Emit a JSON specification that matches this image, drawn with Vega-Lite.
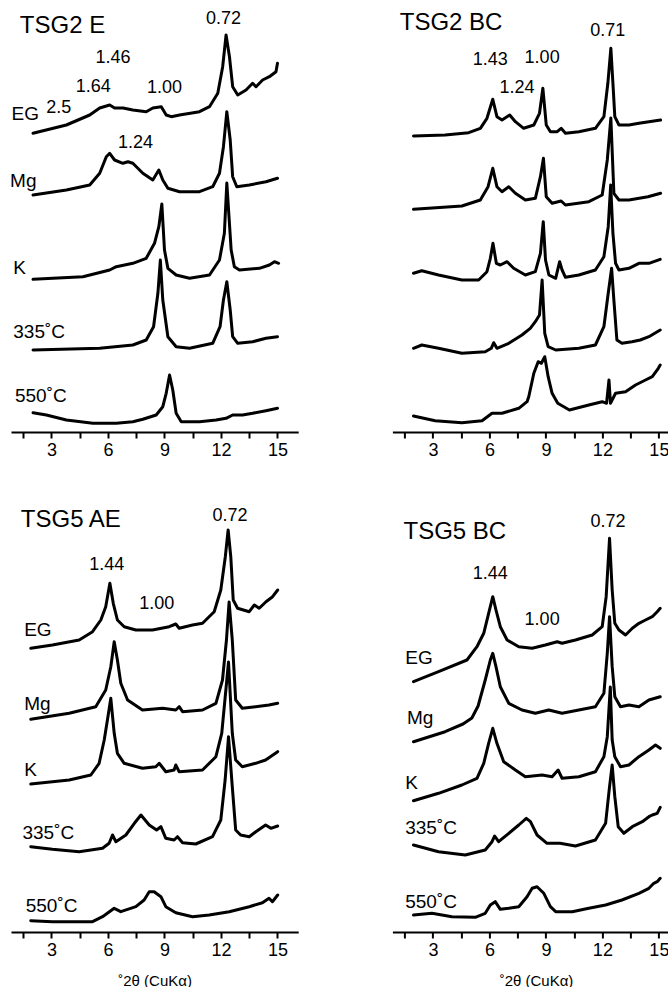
{
"$schema": "https://vega.github.io/schema/vega-lite/v6.json",
"padding": {"left": 10, "top": 0, "right": 0, "bottom": 0},
"background": "white",
"config": {
  "view": {"stroke": null},
  "axisX": {"grid": false, "domainColor": "black", "domainWidth": 2, "tickColor": "black", "tickWidth": 2, "tickSize": 6, "labelFont": "Liberation Sans", "labelFontSize": 18, "labelColor": "black", "labelPadding": 3, "labelFlush": false, "titleFont": "Liberation Sans", "titleFontSize": 15, "titleFontWeight": "normal", "titleColor": "black", "titlePadding": 14},
  "line": {"color": "black", "strokeWidth": 3, "strokeJoin": "round", "strokeCap": "round"},
  "text": {"font": "Liberation Sans", "color": "black", "baseline": "middle"}
},
"bounds": "flush",
"columns": 2,
"spacing": {"row": 48, "column": 93.4},
"concat": [
{
 "width": 287.2, "height": 432,
 "resolve": {"axis": {"x": "independent"}},
 "layer": [
  {"data": {"values": [
    {"t":"EG","x":2.02,"y":298.7},{"t":"EG","x":3.79,"y":307},{"t":"EG","x":5.03,"y":317},{"t":"EG","x":5.56,"y":324},{"t":"EG","x":6.09,"y":327},{"t":"EG","x":6.35,"y":324},{"t":"EG","x":6.8,"y":324},{"t":"EG","x":7.32,"y":322},{"t":"EG","x":8.03,"y":320.3},{"t":"EG","x":8.38,"y":324},{"t":"EG","x":8.83,"y":325.3},{"t":"EG","x":9.09,"y":317},{"t":"EG","x":9.36,"y":315.3},{"t":"EG","x":9.8,"y":317},{"t":"EG","x":10.86,"y":320.3},{"t":"EG","x":11.39,"y":325.3},{"t":"EG","x":11.83,"y":338.7},{"t":"EG","x":12.09,"y":365.3},{"t":"EG","x":12.27,"y":397},{"t":"EG","x":12.45,"y":375.3},{"t":"EG","x":12.62,"y":345.3},{"t":"EG","x":12.89,"y":337},{"t":"EG","x":13.33,"y":342},{"t":"EG","x":13.68,"y":348.7},{"t":"EG","x":13.86,"y":345.3},{"t":"EG","x":14.21,"y":352},{"t":"EG","x":14.57,"y":355.3},{"t":"EG","x":14.92,"y":360.3},{"t":"EG","x":15.0,"y":368.7},
    {"t":"Mg","x":2.02,"y":237},{"t":"Mg","x":3.79,"y":242},{"t":"Mg","x":5.03,"y":247},{"t":"Mg","x":5.56,"y":258.7},{"t":"Mg","x":5.91,"y":275.3},{"t":"Mg","x":6.09,"y":278.7},{"t":"Mg","x":6.35,"y":272},{"t":"Mg","x":6.79,"y":268.7},{"t":"Mg","x":7.06,"y":270.3},{"t":"Mg","x":7.32,"y":268.7},{"t":"Mg","x":7.85,"y":258.7},{"t":"Mg","x":8.38,"y":252},{"t":"Mg","x":8.7,"y":262},{"t":"Mg","x":8.91,"y":252},{"t":"Mg","x":9.18,"y":243.7},{"t":"Mg","x":9.8,"y":240.3},{"t":"Mg","x":10.86,"y":240.3},{"t":"Mg","x":11.56,"y":245.3},{"t":"Mg","x":11.92,"y":258.7},{"t":"Mg","x":12.13,"y":285.3},{"t":"Mg","x":12.31,"y":320.3},{"t":"Mg","x":12.49,"y":292},{"t":"Mg","x":12.62,"y":255.3},{"t":"Mg","x":12.84,"y":245.3},{"t":"Mg","x":13.5,"y":247},{"t":"Mg","x":14.39,"y":250.3},{"t":"Mg","x":15.0,"y":253.7},
    {"t":"K","x":2.02,"y":152.7},{"t":"K","x":4.67,"y":155.3},{"t":"K","x":6.09,"y":162},{"t":"K","x":6.44,"y":165.3},{"t":"K","x":7.32,"y":168.7},{"t":"K","x":8.03,"y":173.7},{"t":"K","x":8.47,"y":188.7},{"t":"K","x":8.7,"y":205.3},{"t":"K","x":8.86,"y":228},{"t":"K","x":9.0,"y":182},{"t":"K","x":9.18,"y":163.7},{"t":"K","x":9.62,"y":157},{"t":"K","x":10.33,"y":153.7},{"t":"K","x":11.39,"y":157},{"t":"K","x":11.92,"y":172},{"t":"K","x":12.18,"y":198.7},{"t":"K","x":12.31,"y":249},{"t":"K","x":12.54,"y":182},{"t":"K","x":12.71,"y":165.3},{"t":"K","x":12.98,"y":162},{"t":"K","x":14.04,"y":163.7},{"t":"K","x":14.57,"y":167},{"t":"K","x":14.84,"y":170.3},{"t":"K","x":15.06,"y":168.7},
    {"t":"335","x":2.02,"y":82},{"t":"335","x":5.56,"y":83.7},{"t":"335","x":7.32,"y":87},{"t":"335","x":8.03,"y":92},{"t":"335","x":8.42,"y":105.3},{"t":"335","x":8.65,"y":138.7},{"t":"335","x":8.78,"y":172},{"t":"335","x":8.91,"y":132},{"t":"335","x":9.18,"y":95.3},{"t":"335","x":9.62,"y":85.3},{"t":"335","x":10.33,"y":83.7},{"t":"335","x":11.56,"y":88.7},{"t":"335","x":11.95,"y":105.3},{"t":"335","x":12.13,"y":132},{"t":"335","x":12.31,"y":150.3},{"t":"335","x":12.49,"y":122},{"t":"335","x":12.62,"y":95.3},{"t":"335","x":12.89,"y":88.7},{"t":"335","x":13.68,"y":90.3},{"t":"335","x":14.39,"y":93.7},{"t":"335","x":15.0,"y":95.3},
    {"t":"550","x":2.02,"y":19.3},{"t":"550","x":2.73,"y":17},{"t":"550","x":3.79,"y":12},{"t":"550","x":5.2,"y":8.7},{"t":"550","x":6.44,"y":8.7},{"t":"550","x":7.32,"y":10.3},{"t":"550","x":7.85,"y":12.7},{"t":"550","x":8.56,"y":17},{"t":"550","x":8.91,"y":25.3},{"t":"550","x":9.09,"y":38.7},{"t":"550","x":9.27,"y":57},{"t":"550","x":9.44,"y":42},{"t":"550","x":9.62,"y":18.7},{"t":"550","x":9.89,"y":10.3},{"t":"550","x":10.86,"y":10.3},{"t":"550","x":11.74,"y":12},{"t":"550","x":12.27,"y":13.7},{"t":"550","x":12.62,"y":17},{"t":"550","x":13.15,"y":17},{"t":"550","x":13.68,"y":18.7},{"t":"550","x":14.39,"y":21.3},{"t":"550","x":15.0,"y":23.7}
   ]},
   "mark": "line",
   "encoding": {
    "x": {"field": "x", "type": "quantitative", "scale": {"domain": [0.85, 16.1], "nice": false, "zero": false}, "axis": {"values": [3,6,9,12,15], "title": null, "orient": "bottom"}},
    "y": {"field": "y", "type": "quantitative", "scale": {"domain": [0, 432], "nice": false, "zero": false}, "axis": null},
    "detail": {"field": "t"}
   }},
  {"data": {"values": [{"x":1.32,"y":406,"text":"TSG2 E"}]}, "mark": {"type": "text", "align": "left", "fontSize": 24}, "encoding": {"x": {"field":"x","type":"quantitative","axis": {"values": [1.5,4.5,7.5,10.5,13.5], "labels": false, "domain": false, "title": null, "orient": "bottom"}}, "y": {"field":"y","type":"quantitative"}, "text": {"field":"text"}}},
  {"data": {"values": [{"x":0.88,"y":318,"text":"EG"},{"x":0.8,"y":251,"text":"Mg"},{"x":0.97,"y":164,"text":"K"},{"x":0.97,"y":100,"text":"335˚C"},{"x":1.06,"y":36,"text":"550˚C"}]}, "mark": {"type": "text", "align": "left", "fontSize": 19}, "encoding": {"x": {"field":"x","type":"quantitative","axis": null}, "y": {"field":"y","type":"quantitative"}, "text": {"field":"text"}}},
  {"data": {"values": [{"x":12.13,"y":413,"text":"0.72"},{"x":6.27,"y":374.5,"text":"1.46"},{"x":5.22,"y":345,"text":"1.64"},{"x":9.0,"y":343.7,"text":"1.00"},{"x":3.39,"y":324,"text":"2.5"},{"x":7.46,"y":289,"text":"1.24"}]}, "mark": {"type": "text", "align": "center", "fontSize": 18}, "encoding": {"x": {"field":"x","type":"quantitative","axis": null}, "y": {"field":"y","type":"quantitative"}, "text": {"field":"text"}}}
 ]
},
{
 "width": 287.2, "height": 432,
 "resolve": {"axis": {"x": "independent"}},
 "layer": [
  {"data": {"values": [
    {"t":"EG","x":1.97,"y":296},{"t":"EG","x":3.65,"y":297},{"t":"EG","x":4.9,"y":299.3},{"t":"EG","x":5.52,"y":303.7},{"t":"EG","x":5.87,"y":313.7},{"t":"EG","x":6.18,"y":332.7},{"t":"EG","x":6.4,"y":315.3},{"t":"EG","x":6.67,"y":312},{"t":"EG","x":7.08,"y":317},{"t":"EG","x":7.38,"y":310.3},{"t":"EG","x":7.82,"y":303.7},{"t":"EG","x":8.36,"y":307},{"t":"EG","x":8.66,"y":318.7},{"t":"EG","x":8.84,"y":343.7},{"t":"EG","x":9.02,"y":307},{"t":"EG","x":9.24,"y":300.3},{"t":"EG","x":9.6,"y":300.3},{"t":"EG","x":9.81,"y":303.7},{"t":"EG","x":10.04,"y":298.7},{"t":"EG","x":10.75,"y":300.3},{"t":"EG","x":11.63,"y":303.7},{"t":"EG","x":12.08,"y":315.3},{"t":"EG","x":12.29,"y":348.7},{"t":"EG","x":12.45,"y":383.7},{"t":"EG","x":12.56,"y":348.7},{"t":"EG","x":12.66,"y":315.3},{"t":"EG","x":12.88,"y":307},{"t":"EG","x":13.41,"y":307},{"t":"EG","x":13.94,"y":308.7},{"t":"EG","x":14.47,"y":310.3},{"t":"EG","x":15.09,"y":312},
    {"t":"Mg","x":1.97,"y":222.7},{"t":"Mg","x":4.54,"y":226},{"t":"Mg","x":5.52,"y":232},{"t":"Mg","x":5.93,"y":245.3},{"t":"Mg","x":6.18,"y":263.7},{"t":"Mg","x":6.4,"y":245.3},{"t":"Mg","x":6.67,"y":240.3},{"t":"Mg","x":7.03,"y":245.3},{"t":"Mg","x":7.38,"y":238.7},{"t":"Mg","x":7.91,"y":232},{"t":"Mg","x":8.44,"y":233.7},{"t":"Mg","x":8.71,"y":255.3},{"t":"Mg","x":8.87,"y":273.7},{"t":"Mg","x":9.02,"y":235.3},{"t":"Mg","x":9.33,"y":228.7},{"t":"Mg","x":9.81,"y":231},{"t":"Mg","x":10.04,"y":227},{"t":"Mg","x":11.28,"y":230.3},{"t":"Mg","x":11.99,"y":237},{"t":"Mg","x":12.26,"y":272},{"t":"Mg","x":12.45,"y":314},{"t":"Mg","x":12.61,"y":238.7},{"t":"Mg","x":12.88,"y":232},{"t":"Mg","x":13.41,"y":232},{"t":"Mg","x":14.42,"y":235.3},{"t":"Mg","x":15.09,"y":238.7},
    {"t":"K","x":1.97,"y":158.7},{"t":"K","x":2.41,"y":161.3},{"t":"K","x":3.3,"y":157},{"t":"K","x":4.54,"y":152},{"t":"K","x":5.43,"y":152},{"t":"K","x":5.87,"y":160.3},{"t":"K","x":6.05,"y":173.7},{"t":"K","x":6.19,"y":188.7},{"t":"K","x":6.37,"y":168.7},{"t":"K","x":6.58,"y":167},{"t":"K","x":6.94,"y":170.3},{"t":"K","x":7.29,"y":163.7},{"t":"K","x":7.91,"y":157},{"t":"K","x":8.44,"y":160.3},{"t":"K","x":8.71,"y":178.7},{"t":"K","x":8.86,"y":210.3},{"t":"K","x":8.98,"y":172},{"t":"K","x":9.16,"y":157},{"t":"K","x":9.52,"y":153.7},{"t":"K","x":9.73,"y":170.3},{"t":"K","x":9.86,"y":162},{"t":"K","x":10.04,"y":154.7},{"t":"K","x":10.75,"y":157},{"t":"K","x":11.63,"y":162},{"t":"K","x":12.08,"y":175.3},{"t":"K","x":12.31,"y":205.3},{"t":"K","x":12.44,"y":247},{"t":"K","x":12.56,"y":198.7},{"t":"K","x":12.7,"y":168.7},{"t":"K","x":12.88,"y":162},{"t":"K","x":13.41,"y":163.7},{"t":"K","x":13.94,"y":168.7},{"t":"K","x":14.47,"y":168.7},{"t":"K","x":15.07,"y":172.7},
    {"t":"335","x":1.97,"y":83.7},{"t":"335","x":2.41,"y":87},{"t":"335","x":3.3,"y":83.7},{"t":"335","x":4.54,"y":78.7},{"t":"335","x":5.78,"y":80.3},{"t":"335","x":6.1,"y":83.7},{"t":"335","x":6.23,"y":89.3},{"t":"335","x":6.4,"y":83.7},{"t":"335","x":7.03,"y":88.7},{"t":"335","x":7.73,"y":97},{"t":"335","x":8.17,"y":103.7},{"t":"335","x":8.44,"y":110.3},{"t":"335","x":8.66,"y":117},{"t":"335","x":8.8,"y":152},{"t":"335","x":8.94,"y":98.7},{"t":"335","x":9.12,"y":85.3},{"t":"335","x":9.52,"y":82},{"t":"335","x":10.75,"y":83.7},{"t":"335","x":11.63,"y":87},{"t":"335","x":12.08,"y":105.3},{"t":"335","x":12.31,"y":138.7},{"t":"335","x":12.49,"y":163.7},{"t":"335","x":12.61,"y":132},{"t":"335","x":12.77,"y":92},{"t":"335","x":13.04,"y":88.7},{"t":"335","x":13.57,"y":90.3},{"t":"335","x":14.01,"y":92},{"t":"335","x":14.47,"y":95.3},{"t":"335","x":15.07,"y":102},
    {"t":"550","x":1.97,"y":16},{"t":"550","x":3.12,"y":11.3},{"t":"550","x":4.54,"y":9.3},{"t":"550","x":5.61,"y":11.3},{"t":"550","x":6.14,"y":18.7},{"t":"550","x":6.67,"y":18.7},{"t":"550","x":7.56,"y":23.7},{"t":"550","x":8.0,"y":30.3},{"t":"550","x":8.09,"y":35.3},{"t":"550","x":8.36,"y":58.7},{"t":"550","x":8.59,"y":70.3},{"t":"550","x":8.76,"y":68.7},{"t":"550","x":8.94,"y":75.3},{"t":"550","x":9.12,"y":55.3},{"t":"550","x":9.33,"y":38.7},{"t":"550","x":9.63,"y":28.7},{"t":"550","x":10.25,"y":22},{"t":"550","x":11.28,"y":27},{"t":"550","x":11.99,"y":30.3},{"t":"550","x":12.22,"y":28.7},{"t":"550","x":12.35,"y":52},{"t":"550","x":12.43,"y":28.7},{"t":"550","x":12.7,"y":38.7},{"t":"550","x":13.23,"y":40.3},{"t":"550","x":13.76,"y":47},{"t":"550","x":14.29,"y":52},{"t":"550","x":14.65,"y":55.3},{"t":"550","x":14.97,"y":63.7},{"t":"550","x":15.07,"y":67}
   ]},
   "mark": "line",
   "encoding": {
    "x": {"field": "x", "type": "quantitative", "scale": {"domain": [0.85, 16.1], "nice": false, "zero": false}, "axis": {"values": [3,6,9,12,15], "title": null, "orient": "bottom"}},
    "y": {"field": "y", "type": "quantitative", "scale": {"domain": [0, 432], "nice": false, "zero": false}, "axis": null},
    "detail": {"field": "t"}
   }},
  {"data": {"values": [{"x":1.24,"y":409.5,"text":"TSG2 BC"}]}, "mark": {"type": "text", "align": "left", "fontSize": 24}, "encoding": {"x": {"field":"x","type":"quantitative","axis": {"values": [1.5,4.5,7.5,10.5,13.5], "labels": false, "domain": false, "title": null, "orient": "bottom"}}, "y": {"field":"y","type":"quantitative"}, "text": {"field":"text"}}},
  {"data": {"values": [{"x":12.29,"y":401,"text":"0.71"},{"x":6.05,"y":372,"text":"1.43"},{"x":8.8,"y":373.7,"text":"1.00"},{"x":7.47,"y":343.7,"text":"1.24"}]}, "mark": {"type": "text", "align": "center", "fontSize": 18}, "encoding": {"x": {"field":"x","type":"quantitative","axis": null}, "y": {"field":"y","type":"quantitative"}, "text": {"field":"text"}}}
 ]
},
{
 "width": 287.2, "height": 452,
 "resolve": {"axis": {"x": "independent"}},
 "layer": [
  {"data": {"values": [
    {"t":"EG","x":1.9,"y":283.7},{"t":"EG","x":3.05,"y":287},{"t":"EG","x":4.47,"y":292},{"t":"EG","x":5.18,"y":300.3},{"t":"EG","x":5.62,"y":312},{"t":"EG","x":5.88,"y":325.3},{"t":"EG","x":6.1,"y":348.7},{"t":"EG","x":6.28,"y":328.7},{"t":"EG","x":6.5,"y":312},{"t":"EG","x":6.86,"y":305.3},{"t":"EG","x":7.48,"y":302},{"t":"EG","x":8.36,"y":302},{"t":"EG","x":9.25,"y":305.3},{"t":"EG","x":9.6,"y":308},{"t":"EG","x":9.78,"y":303.7},{"t":"EG","x":10.49,"y":307},{"t":"EG","x":11.02,"y":308.7},{"t":"EG","x":11.64,"y":320.3},{"t":"EG","x":11.99,"y":342},{"t":"EG","x":12.23,"y":375.3},{"t":"EG","x":12.38,"y":402},{"t":"EG","x":12.52,"y":375.3},{"t":"EG","x":12.65,"y":332},{"t":"EG","x":12.88,"y":323.7},{"t":"EG","x":13.5,"y":320.3},{"t":"EG","x":13.77,"y":327},{"t":"EG","x":14.03,"y":323.7},{"t":"EG","x":14.39,"y":330.3},{"t":"EG","x":14.74,"y":335.3},{"t":"EG","x":15.01,"y":342},
    {"t":"Mg","x":1.9,"y":212.7},{"t":"Mg","x":3.94,"y":218.7},{"t":"Mg","x":5.35,"y":225.3},{"t":"Mg","x":5.88,"y":242},{"t":"Mg","x":6.15,"y":265.3},{"t":"Mg","x":6.33,"y":290.3},{"t":"Mg","x":6.5,"y":272},{"t":"Mg","x":6.68,"y":248.7},{"t":"Mg","x":7.04,"y":232},{"t":"Mg","x":7.83,"y":222},{"t":"Mg","x":8.9,"y":223.7},{"t":"Mg","x":9.6,"y":222},{"t":"Mg","x":9.78,"y":225.3},{"t":"Mg","x":9.96,"y":220.3},{"t":"Mg","x":11.02,"y":222},{"t":"Mg","x":11.73,"y":228.7},{"t":"Mg","x":12.08,"y":252},{"t":"Mg","x":12.29,"y":292},{"t":"Mg","x":12.43,"y":330},{"t":"Mg","x":12.6,"y":292},{"t":"Mg","x":12.78,"y":232},{"t":"Mg","x":13.13,"y":223.7},{"t":"Mg","x":13.84,"y":225.3},{"t":"Mg","x":14.55,"y":227},{"t":"Mg","x":15.01,"y":228.7},
    {"t":"K","x":1.9,"y":148},{"t":"K","x":3.94,"y":152},{"t":"K","x":5.09,"y":157},{"t":"K","x":5.53,"y":168.7},{"t":"K","x":5.8,"y":192},{"t":"K","x":5.97,"y":212},{"t":"K","x":6.15,"y":233.7},{"t":"K","x":6.33,"y":198.7},{"t":"K","x":6.5,"y":178.7},{"t":"K","x":6.86,"y":168.7},{"t":"K","x":7.83,"y":163.7},{"t":"K","x":8.54,"y":165.3},{"t":"K","x":8.72,"y":168.7},{"t":"K","x":9.07,"y":160.3},{"t":"K","x":9.51,"y":162},{"t":"K","x":9.6,"y":167},{"t":"K","x":9.78,"y":160.3},{"t":"K","x":11.02,"y":162},{"t":"K","x":11.73,"y":175.3},{"t":"K","x":12.04,"y":198.7},{"t":"K","x":12.4,"y":270},{"t":"K","x":12.6,"y":198.7},{"t":"K","x":12.78,"y":172},{"t":"K","x":13.13,"y":165.3},{"t":"K","x":13.84,"y":168.7},{"t":"K","x":14.37,"y":172},{"t":"K","x":15.01,"y":180.3},
    {"t":"335","x":1.9,"y":85.3},{"t":"335","x":3.05,"y":82.7},{"t":"335","x":4.47,"y":80.3},{"t":"335","x":5.71,"y":83.7},{"t":"335","x":6.06,"y":88.7},{"t":"335","x":6.24,"y":97},{"t":"335","x":6.42,"y":90.3},{"t":"335","x":6.95,"y":97},{"t":"335","x":7.4,"y":108.7},{"t":"335","x":7.75,"y":117},{"t":"335","x":8.19,"y":107},{"t":"335","x":8.58,"y":102},{"t":"335","x":8.81,"y":105.3},{"t":"335","x":9.07,"y":93.7},{"t":"335","x":9.51,"y":92},{"t":"335","x":9.69,"y":95.3},{"t":"335","x":9.96,"y":89.3},{"t":"335","x":10.66,"y":88},{"t":"335","x":11.55,"y":95.3},{"t":"335","x":11.99,"y":112},{"t":"335","x":12.22,"y":152},{"t":"335","x":12.4,"y":195.3},{"t":"335","x":12.6,"y":145.3},{"t":"335","x":12.78,"y":102},{"t":"335","x":13.04,"y":97},{"t":"335","x":13.5,"y":95.3},{"t":"335","x":13.85,"y":100.3},{"t":"335","x":14.37,"y":107},{"t":"335","x":14.65,"y":103.7},{"t":"335","x":15.01,"y":106},
    {"t":"550","x":1.9,"y":11.3},{"t":"550","x":3.05,"y":10.3},{"t":"550","x":5.18,"y":10.3},{"t":"550","x":5.71,"y":15.3},{"t":"550","x":6.33,"y":23.7},{"t":"550","x":6.68,"y":20.3},{"t":"550","x":7.48,"y":25.3},{"t":"550","x":7.92,"y":32},{"t":"550","x":8.19,"y":40.3},{"t":"550","x":8.45,"y":40.3},{"t":"550","x":8.81,"y":35.3},{"t":"550","x":9.07,"y":25.3},{"t":"550","x":9.6,"y":19.3},{"t":"550","x":10.49,"y":15.3},{"t":"550","x":11.37,"y":17},{"t":"550","x":12.44,"y":20.3},{"t":"550","x":13.5,"y":25.3},{"t":"550","x":14.2,"y":29.3},{"t":"550","x":14.55,"y":33.7},{"t":"550","x":14.73,"y":30.3},{"t":"550","x":15.01,"y":37}
   ]},
   "mark": "line",
   "encoding": {
    "x": {"field": "x", "type": "quantitative", "scale": {"domain": [0.85, 16.1], "nice": false, "zero": false}, "axis": {"values": [3,6,9,12,15], "title": "˚2θ (CuKα)", "orient": "bottom"}},
    "y": {"field": "y", "type": "quantitative", "scale": {"domain": [0, 452], "nice": false, "zero": false}, "axis": null},
    "detail": {"field": "t"}
   }},
  {"data": {"values": [{"x":1.37,"y":412,"text":"TSG5 AE"}]}, "mark": {"type": "text", "align": "left", "fontSize": 24}, "encoding": {"x": {"field":"x","type":"quantitative","axis": {"values": [1.5,4.5,7.5,10.5,13.5], "labels": false, "domain": false, "title": null, "orient": "bottom"}}, "y": {"field":"y","type":"quantitative"}, "text": {"field":"text"}}},
  {"data": {"values": [{"x":1.55,"y":302,"text":"EG"},{"x":1.55,"y":228,"text":"Mg"},{"x":1.55,"y":162,"text":"K"},{"x":1.46,"y":99,"text":"335˚C"},{"x":1.63,"y":26,"text":"550˚C"}]}, "mark": {"type": "text", "align": "left", "fontSize": 19}, "encoding": {"x": {"field":"x","type":"quantitative","axis": null}, "y": {"field":"y","type":"quantitative"}, "text": {"field":"text"}}},
  {"data": {"values": [{"x":12.48,"y":416,"text":"0.72"},{"x":5.93,"y":367,"text":"1.44"},{"x":8.59,"y":328,"text":"1.00"}]}, "mark": {"type": "text", "align": "center", "fontSize": 18}, "encoding": {"x": {"field":"x","type":"quantitative","axis": null}, "y": {"field":"y","type":"quantitative"}, "text": {"field":"text"}}}
 ]
},
{
 "width": 287.2, "height": 452,
 "resolve": {"axis": {"x": "independent"}},
 "layer": [
  {"data": {"values": [
    {"t":"EG","x":1.97,"y":250.3},{"t":"EG","x":3.3,"y":260.3},{"t":"EG","x":4.81,"y":272},{"t":"EG","x":5.34,"y":285.3},{"t":"EG","x":5.7,"y":298.7},{"t":"EG","x":5.96,"y":318.7},{"t":"EG","x":6.18,"y":335.3},{"t":"EG","x":6.35,"y":322},{"t":"EG","x":6.58,"y":305.3},{"t":"EG","x":6.94,"y":292},{"t":"EG","x":7.56,"y":285.3},{"t":"EG","x":8.27,"y":283.7},{"t":"EG","x":8.97,"y":287},{"t":"EG","x":9.6,"y":290.3},{"t":"EG","x":9.86,"y":288.7},{"t":"EG","x":10.57,"y":292},{"t":"EG","x":11.46,"y":297},{"t":"EG","x":11.99,"y":305.3},{"t":"EG","x":12.2,"y":335.3},{"t":"EG","x":12.38,"y":393.7},{"t":"EG","x":12.52,"y":342},{"t":"EG","x":12.66,"y":308.7},{"t":"EG","x":12.88,"y":302},{"t":"EG","x":13.23,"y":297},{"t":"EG","x":13.59,"y":303.7},{"t":"EG","x":13.94,"y":308.7},{"t":"EG","x":14.29,"y":312},{"t":"EG","x":14.65,"y":315.3},{"t":"EG","x":14.91,"y":320.3},{"t":"EG","x":15.07,"y":323.7},
    {"t":"Mg","x":1.97,"y":190.3},{"t":"Mg","x":3.65,"y":200.3},{"t":"Mg","x":4.6,"y":208},{"t":"Mg","x":5.07,"y":214},{"t":"Mg","x":5.4,"y":226},{"t":"Mg","x":5.78,"y":252},{"t":"Mg","x":6.05,"y":272},{"t":"Mg","x":6.18,"y":278.7},{"t":"Mg","x":6.35,"y":265.3},{"t":"Mg","x":6.58,"y":245.3},{"t":"Mg","x":7.03,"y":228.7},{"t":"Mg","x":7.73,"y":222},{"t":"Mg","x":8.44,"y":218.7},{"t":"Mg","x":9.15,"y":222},{"t":"Mg","x":9.86,"y":218.7},{"t":"Mg","x":10.75,"y":222},{"t":"Mg","x":11.63,"y":225.3},{"t":"Mg","x":12.08,"y":238.7},{"t":"Mg","x":12.26,"y":278.7},{"t":"Mg","x":12.38,"y":315.3},{"t":"Mg","x":12.52,"y":265.3},{"t":"Mg","x":12.66,"y":235.3},{"t":"Mg","x":12.96,"y":225.3},{"t":"Mg","x":13.41,"y":227},{"t":"Mg","x":13.94,"y":225.3},{"t":"Mg","x":14.47,"y":232},{"t":"Mg","x":15.07,"y":235.3},
    {"t":"K","x":1.97,"y":131.3},{"t":"K","x":3.3,"y":138.7},{"t":"K","x":4.54,"y":147},{"t":"K","x":5.34,"y":153.7},{"t":"K","x":5.7,"y":168.7},{"t":"K","x":5.96,"y":188.7},{"t":"K","x":6.18,"y":203.7},{"t":"K","x":6.4,"y":188.7},{"t":"K","x":6.76,"y":170.3},{"t":"K","x":7.38,"y":162},{"t":"K","x":7.91,"y":155.3},{"t":"K","x":8.8,"y":157},{"t":"K","x":9.33,"y":155.3},{"t":"K","x":9.65,"y":162},{"t":"K","x":9.86,"y":153.7},{"t":"K","x":10.75,"y":155.3},{"t":"K","x":11.63,"y":160.3},{"t":"K","x":12.08,"y":175.3},{"t":"K","x":12.26,"y":195.3},{"t":"K","x":12.42,"y":245},{"t":"K","x":12.52,"y":192},{"t":"K","x":12.66,"y":175.3},{"t":"K","x":12.96,"y":165.3},{"t":"K","x":13.41,"y":167},{"t":"K","x":13.94,"y":175.3},{"t":"K","x":14.47,"y":182},{"t":"K","x":14.82,"y":187},{"t":"K","x":15.07,"y":183.7},
    {"t":"335","x":1.97,"y":87},{"t":"335","x":3.3,"y":80.3},{"t":"335","x":4.72,"y":77},{"t":"335","x":5.78,"y":82},{"t":"335","x":6.14,"y":90.3},{"t":"335","x":6.28,"y":96},{"t":"335","x":6.49,"y":90.3},{"t":"335","x":7.03,"y":98.7},{"t":"335","x":7.56,"y":107},{"t":"335","x":7.96,"y":113.7},{"t":"335","x":8.18,"y":110.3},{"t":"335","x":8.53,"y":97},{"t":"335","x":9.06,"y":88.7},{"t":"335","x":9.75,"y":88.7},{"t":"335","x":10.57,"y":86},{"t":"335","x":11.63,"y":92},{"t":"335","x":12.17,"y":108.7},{"t":"335","x":12.38,"y":145.3},{"t":"335","x":12.52,"y":167},{"t":"335","x":12.66,"y":135.3},{"t":"335","x":12.84,"y":105.3},{"t":"335","x":13.14,"y":98.7},{"t":"335","x":13.59,"y":105.3},{"t":"335","x":14.12,"y":110.3},{"t":"335","x":14.47,"y":115.3},{"t":"335","x":14.65,"y":117},{"t":"335","x":14.91,"y":118.7},{"t":"335","x":15.07,"y":124.7},
    {"t":"550","x":1.97,"y":17},{"t":"550","x":2.95,"y":18.7},{"t":"550","x":4.01,"y":15.3},{"t":"550","x":5.25,"y":14.7},{"t":"550","x":5.78,"y":18.7},{"t":"550","x":6.05,"y":27},{"t":"550","x":6.31,"y":30.3},{"t":"550","x":6.58,"y":22.7},{"t":"550","x":7.03,"y":23.7},{"t":"550","x":7.56,"y":25.3},{"t":"550","x":8.0,"y":35.3},{"t":"550","x":8.27,"y":43.7},{"t":"550","x":8.53,"y":45.3},{"t":"550","x":8.89,"y":38.7},{"t":"550","x":9.24,"y":25.3},{"t":"550","x":9.52,"y":20.3},{"t":"550","x":10.4,"y":20.3},{"t":"550","x":11.28,"y":23.7},{"t":"550","x":12.17,"y":27},{"t":"550","x":13.04,"y":32},{"t":"550","x":13.94,"y":38.7},{"t":"550","x":14.47,"y":43.7},{"t":"550","x":14.73,"y":48.7},{"t":"550","x":14.91,"y":50.3},{"t":"550","x":15.07,"y":53.7}
   ]},
   "mark": "line",
   "encoding": {
    "x": {"field": "x", "type": "quantitative", "scale": {"domain": [0.85, 16.1], "nice": false, "zero": false}, "axis": {"values": [3,6,9,12,15], "title": "˚2θ (CuKα)", "orient": "bottom"}},
    "y": {"field": "y", "type": "quantitative", "scale": {"domain": [0, 452], "nice": false, "zero": false}, "axis": null},
    "detail": {"field": "t"}
   }},
  {"data": {"values": [{"x":1.44,"y":400.3,"text":"TSG5 BC"}]}, "mark": {"type": "text", "align": "left", "fontSize": 24}, "encoding": {"x": {"field":"x","type":"quantitative","axis": {"values": [1.5,4.5,7.5,10.5,13.5], "labels": false, "domain": false, "title": null, "orient": "bottom"}}, "y": {"field":"y","type":"quantitative"}, "text": {"field":"text"}}},
  {"data": {"values": [{"x":1.53,"y":274,"text":"EG"},{"x":1.62,"y":214.5,"text":"Mg"},{"x":1.53,"y":149,"text":"K"},{"x":1.53,"y":104,"text":"335˚C"},{"x":1.53,"y":30.3,"text":"550˚C"}]}, "mark": {"type": "text", "align": "left", "fontSize": 19}, "encoding": {"x": {"field":"x","type":"quantitative","axis": null}, "y": {"field":"y","type":"quantitative"}, "text": {"field":"text"}}},
  {"data": {"values": [{"x":12.3,"y":410.3,"text":"0.72"},{"x":6.05,"y":358,"text":"1.44"},{"x":8.8,"y":312,"text":"1.00"}]}, "mark": {"type": "text", "align": "center", "fontSize": 18}, "encoding": {"x": {"field":"x","type":"quantitative","axis": null}, "y": {"field":"y","type":"quantitative"}, "text": {"field":"text"}}}
 ]
}
]
}
